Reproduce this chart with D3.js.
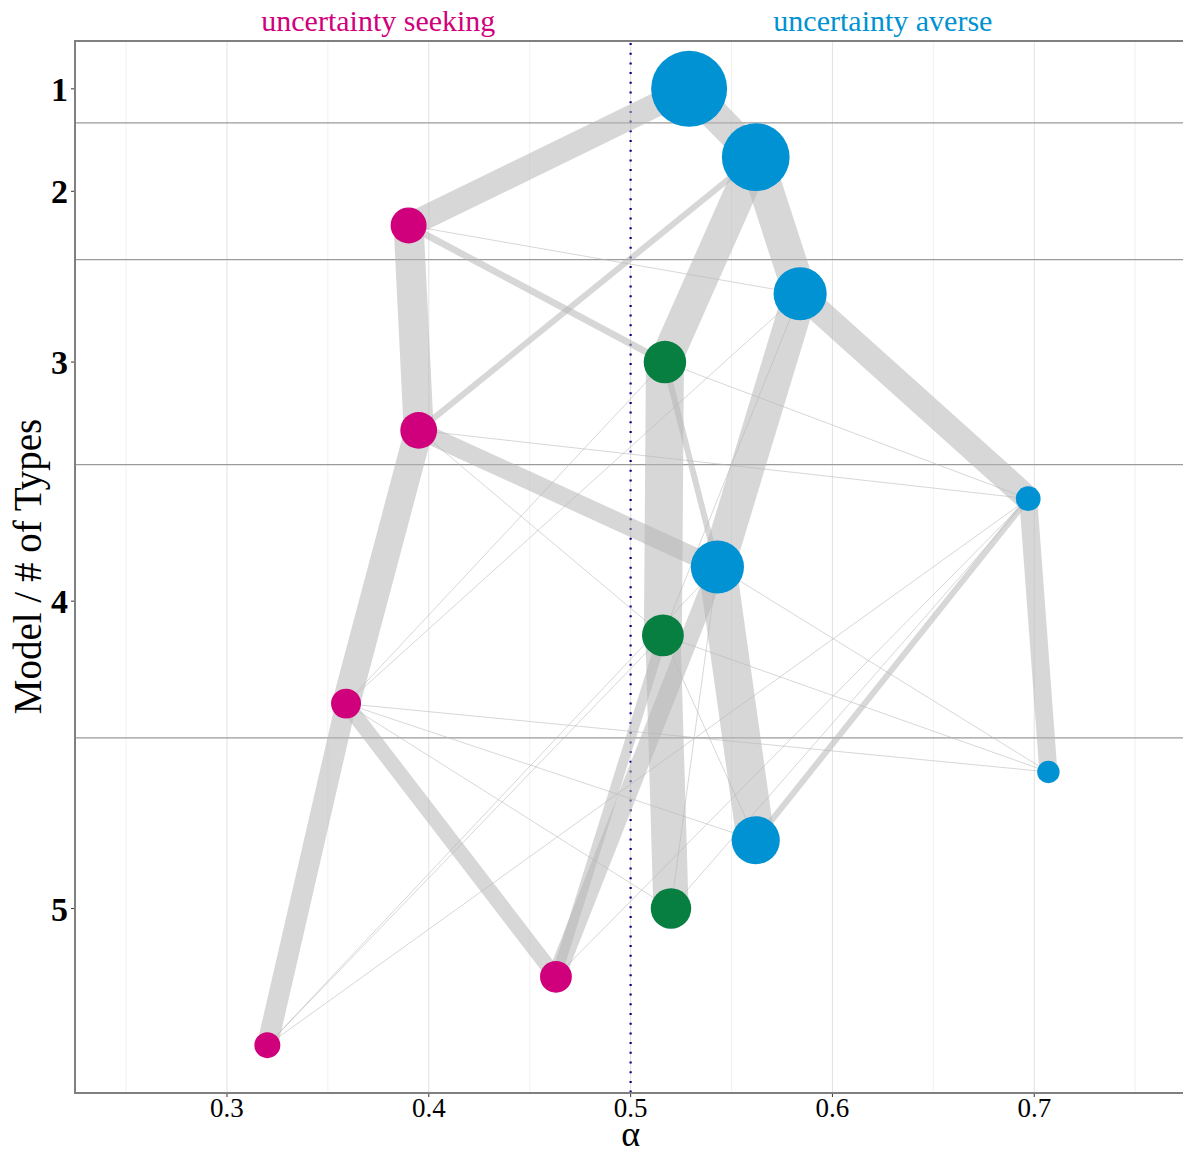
<!DOCTYPE html>
<html><head><meta charset="utf-8">
<script src="https://cdn.jsdelivr.net/npm/d3@7"></script>
<style>body{margin:0;background:#fff} svg{display:block}</style>
</head><body><svg id="chart" width="1183" height="1154"></svg>
<script>
// ---------- data ----------
const modelLabels = ["1", "2", "3", "4", "5"];
const xTickValues = [0.3, 0.4, 0.5, 0.6, 0.7];
const xTickLabels = ["0.3", "0.4", "0.5", "0.6", "0.7"];
const groupTitles = ["uncertainty seeking", "uncertainty averse"];
const groupTitleAlpha = [0.375, 0.625];
const groupTitleType = ["seeking", "averse"];
const neutralAlpha = 0.5;

// one entry per type (node)
const nodeModel = [1, 2, 2, 3, 3, 3, 4, 4, 4, 4, 5, 5, 5, 5, 5];
const nodeAlpha = [0.529, 0.562, 0.390, 0.584, 0.517, 0.395, 0.697, 0.543, 0.516, 0.359, 0.707, 0.562, 0.520, 0.463, 0.320];
const nodeShare = [1.00, 0.79, 0.21, 0.48, 0.30, 0.22, 0.09, 0.48, 0.29, 0.14, 0.07, 0.39, 0.27, 0.16, 0.10];
const nodeType  = ["averse", "averse", "seeking", "averse", "neutral", "seeking",
                   "averse", "averse", "neutral", "seeking",
                   "averse", "averse", "neutral", "seeking", "seeking"];

// transitions between consecutive models (indices into node arrays)
const edgeFrom   = [0, 0,  1, 1, 1, 2, 2, 2,  3, 3, 3, 3,  4, 4, 4, 4,  5, 5, 5, 5,
                    6, 6, 6, 6, 6,  7, 7, 7, 7, 7,  8, 8, 8, 8, 8,  9, 9, 9, 9, 9];
const edgeTo     = [1, 2,  3, 4, 5, 5, 4, 3,  6, 7, 8, 9,  8, 7, 6, 9,  9, 7, 8, 6,
                    10, 11, 12, 13, 14,  11, 13, 12, 10, 14,  12, 13, 11, 10, 14,  14, 13, 10, 11, 12];
const edgeWeight = [0.75, 0.60,  0.85, 0.80, 0.15, 0.75, 0.17, 0.02,
                    0.62, 0.85, 0.02, 0.02,  0.95, 0.15, 0.02, 0.02,  0.70, 0.45, 0.02, 0.02,
                    0.45, 0.15, 0.02, 0.02, 0.02,  0.95, 0.45, 0.02, 0.02, 0.02,
                    0.88, 0.25, 0.02, 0.02, 0.02,  0.52, 0.38, 0.02, 0.02, 0.02];

// ---------- layout ----------
const W = 1183, H = 1154;
const panel = {left: 75, right: 1186, top: 41, bottom: 1093};
const typeColor = {averse: "#0092D2", seeking: "#D0007C", neutral: "#077F40"};
const fontFamily = "'Liberation Serif', 'Times New Roman', serif";

// vertical slot of each node: models stacked, within a model sorted by alpha (desc)
const slot = new Array(nodeModel.length);
let offset = 0;
const modelCenters = [], modelBounds = [];
modelLabels.forEach((m, mi) => {
  const ids = d3.range(nodeModel.length).filter(i => nodeModel[i] === mi + 1)
    .sort((a, b) => nodeAlpha[b] - nodeAlpha[a]);
  ids.forEach((id, r) => slot[id] = offset + r);
  modelCenters.push(offset + (ids.length - 1) / 2);
  offset += ids.length;
  if (mi < modelLabels.length - 1) modelBounds.push(offset - 0.5);
});
const nSlots = offset;

const x = d3.scaleLinear().domain([0.2247, 0.7737]).range([75, 1183]);
const y = d3.scaleLinear().domain([-0.7, nSlots - 1 + 0.7]).range([panel.top, panel.bottom]);
const area = d3.scaleLinear().domain([0, 1]).range([26.5, 1443.5]);
const radius = s => Math.sqrt(area(s));
const width = d3.scaleLinear().domain([0, 1]).range([0, 40]);

const svg = d3.select("#chart");
svg.append("rect").attr("width", W).attr("height", H).attr("fill", "#fff");

// grid (vertical major + minor)
const minor = d3.range(0.25, 0.76, 0.1).map(v => +v.toFixed(2));
svg.append("g").selectAll("line").data(minor).join("line")
  .attr("x1", d => x(d)).attr("x2", d => x(d))
  .attr("y1", panel.top).attr("y2", panel.bottom)
  .attr("stroke", "#f1f1f1").attr("stroke-width", 1);
svg.append("g").selectAll("line").data(xTickValues).join("line")
  .attr("x1", d => x(d)).attr("x2", d => x(d))
  .attr("y1", panel.top).attr("y2", panel.bottom)
  .attr("stroke", "#e2e2e2").attr("stroke-width", 1);

// model separators
svg.append("g").selectAll("line").data(modelBounds).join("line")
  .attr("x1", panel.left).attr("x2", panel.right)
  .attr("y1", d => y(d)).attr("y2", d => y(d))
  .attr("stroke", "#9a9a9a").attr("stroke-width", 1.3);

// neutral reference line
svg.append("line")
  .attr("x1", x(neutralAlpha)).attr("x2", x(neutralAlpha))
  .attr("y1", panel.top + 2).attr("y2", panel.bottom)
  .attr("stroke", "#00008B").attr("stroke-width", 2.2)
  .attr("stroke-dasharray", "2,7.7");

// edges
const edges = edgeFrom.map((f, i) => ({f, t: edgeTo[i], w: edgeWeight[i]}))
  .sort((a, b) => b.w - a.w);
svg.append("g").selectAll("line").data(edges).join("line")
  .attr("x1", d => x(nodeAlpha[d.f])).attr("y1", d => y(slot[d.f]))
  .attr("x2", d => x(nodeAlpha[d.t])).attr("y2", d => y(slot[d.t]))
  .attr("stroke", "#b6b6b6").attr("stroke-opacity", 0.55)
  .attr("stroke-width", d => Math.max(1, width(d.w)))
  .attr("stroke-linecap", "butt");

// nodes
svg.append("g").selectAll("circle").data(d3.range(nodeModel.length)).join("circle")
  .attr("cx", i => x(nodeAlpha[i])).attr("cy", i => y(slot[i]))
  .attr("r", i => radius(nodeShare[i]))
  .attr("fill", i => typeColor[nodeType[i]]);

// panel border (left, top, bottom)
svg.append("path")
  .attr("d", `M${panel.right},${panel.top}H${panel.left}V${panel.bottom}H${panel.right}`)
  .attr("fill", "none").attr("stroke", "#808080").attr("stroke-width", 2);

// y axis ticks & labels
const yg = svg.append("g");
yg.selectAll("line").data(modelCenters).join("line")
  .attr("x1", panel.left - 4).attr("x2", panel.left - 1)
  .attr("y1", d => y(d)).attr("y2", d => y(d))
  .attr("stroke", "#333").attr("stroke-width", 1);
yg.selectAll("text").data(modelCenters).join("text")
  .attr("x", 68).attr("y", d => y(d) + 12)
  .attr("text-anchor", "end")
  .attr("font-family", fontFamily).attr("font-size", 34).attr("font-weight", "bold")
  .attr("fill", "#000")
  .text((d, i) => modelLabels[i]);

// x axis ticks & labels
const xg = svg.append("g");
xg.selectAll("line").data(xTickValues).join("line")
  .attr("x1", d => x(d)).attr("x2", d => x(d))
  .attr("y1", panel.bottom + 1).attr("y2", panel.bottom + 4)
  .attr("stroke", "#333").attr("stroke-width", 1);
xg.selectAll("text").data(xTickValues).join("text")
  .attr("x", d => x(d)).attr("y", 1117)
  .attr("text-anchor", "middle")
  .attr("font-family", fontFamily).attr("font-size", 27)
  .attr("fill", "#000")
  .text((d, i) => xTickLabels[i]);

// axis titles
svg.append("text")
  .attr("x", x(neutralAlpha)).attr("y", 1146)
  .attr("text-anchor", "middle")
  .attr("font-family", fontFamily).attr("font-size", 36)
  .text("α");
svg.append("text")
  .attr("transform", `translate(41,${(415 + 718) / 2}) rotate(-90)`)
  .attr("text-anchor", "middle")
  .attr("font-family", fontFamily).attr("font-size", 39)
  .text("Model / # of Types");

// group titles
svg.append("g").selectAll("text").data(groupTitles).join("text")
  .attr("x", (d, i) => x(groupTitleAlpha[i])).attr("y", 31)
  .attr("text-anchor", "middle")
  .attr("font-family", fontFamily).attr("font-size", 30)
  .attr("fill", (d, i) => typeColor[groupTitleType[i]])
  .text(d => d);
</script>
</body></html>
